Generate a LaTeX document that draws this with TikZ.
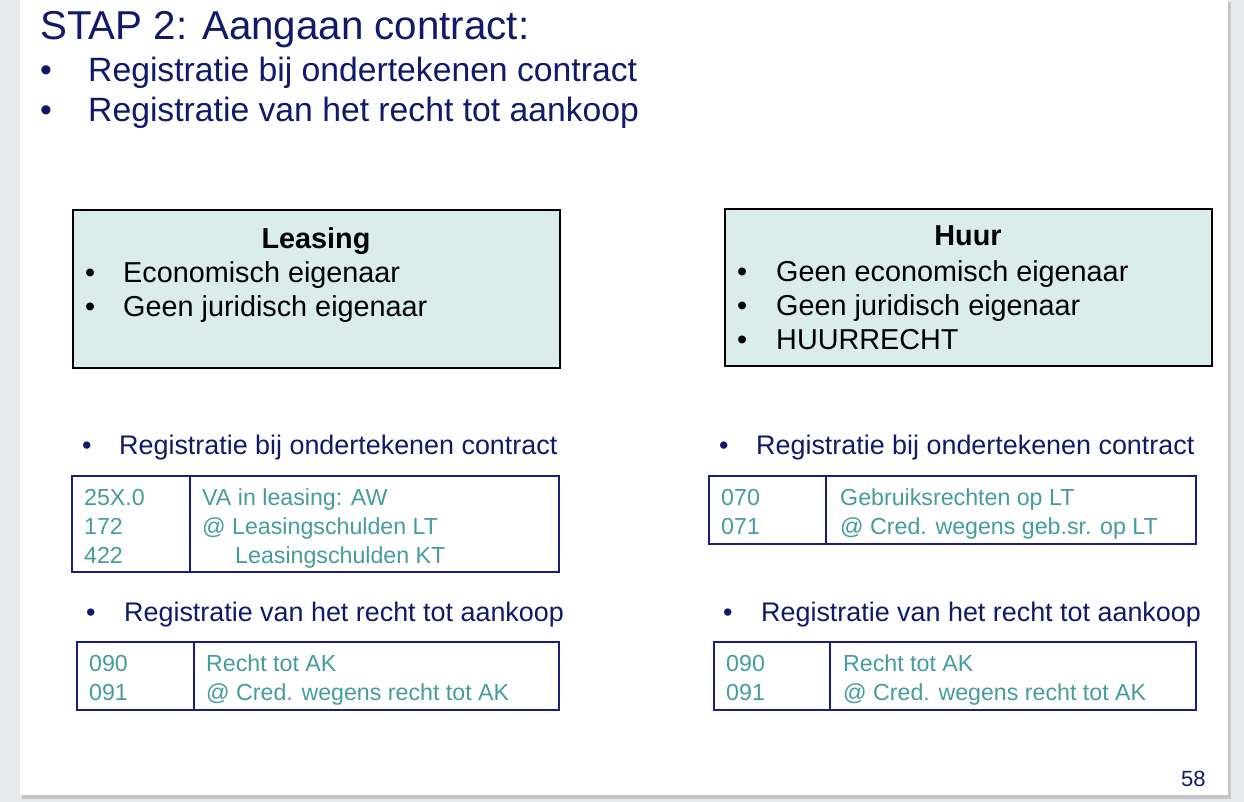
\documentclass[tikz,border=0pt]{standalone}
\usepackage{fontspec}
\setmainfont{Liberation Sans}
\definecolor{navy}{HTML}{10196A}
\definecolor{frame}{HTML}{1C1C7E}
\definecolor{teal}{HTML}{459C9E}
\definecolor{boxfill}{HTML}{DBECEC}
\definecolor{pagegray}{HTML}{E8E9EB}
\tikzset{
  txt/.style={anchor=base west, inner sep=0pt},
  tbl/.style={draw=frame, line width=1.4pt},
  tbltxt/.style={txt, text=teal, font=\fontsize{23.2}{27}\selectfont},
  secbul/.style={txt, text=navy, font=\fontsize{26.9}{31}\selectfont},
  boxtxt/.style={txt, font=\fontsize{28.8}{33}\selectfont},
  toptxt/.style={txt, text=navy, font=\fontsize{33.7}{39}\selectfont},
}
\begin{document}
\begin{tikzpicture}[x=1pt,y=-1pt]
	\useasboundingbox (0,0) rectangle (1244,802);
	\fill[pagegray] (0,0) rectangle (1244,802);
	\fill[black!22] (22,2) rectangle (1231,799);
	\fill[white] (20,0) rectangle (1228,795);
	
	% title
	\node[txt, text=navy, font=\fontsize{40.3}{46}\selectfont] (title) at (40,40) {STAP 2: Aangaan contract:};
	\node[toptxt] at (40,82) {•};
	\node[toptxt] (b1) at (88,82) {Registratie bij ondertekenen contract};
	\node[toptxt] at (40,122) {•};
	\node[toptxt] (b2) at (88,122) {Registratie van het recht tot aankoop};
	
	% boxes
	\draw[fill=boxfill, line width=1.2pt] (73,210) rectangle (560,368);
	\node[anchor=base, font=\bfseries\fontsize{28.8}{33}\selectfont] (leasing) at (316,248) {Leasing};
	\node[boxtxt] at (85,282) {•};
	\node[boxtxt] (l1) at (123,282) {Economisch eigenaar};
	\node[boxtxt] at (85,316) {•};
	\node[boxtxt] (l2) at (123,316) {Geen juridisch eigenaar};
	
	\draw[fill=boxfill, line width=1.2pt] (725,209) rectangle (1212,366);
	\node[anchor=base, font=\bfseries\fontsize{28.8}{33}\selectfont] (huur) at (968,246) {Huur};
	\node[boxtxt] at (737,281) {•};
	\node[boxtxt] (h1) at (776,281) {Geen economisch eigenaar};
	\node[boxtxt] at (737,315) {•};
	\node[boxtxt] (h2) at (776,315) {Geen juridisch eigenaar};
	\node[boxtxt] at (737,349) {•};
	\node[boxtxt] (h3) at (776,349) {HUURRECHT};
	
	% section bullets
	\node[secbul] at (82,454) {•};
	\node[secbul] (s1) at (119,454) {Registratie bij ondertekenen contract};
	\node[secbul] at (719,454) {•};
	\node[secbul] (s2) at (756,454) {Registratie bij ondertekenen contract};
	\node[secbul] at (86,621) {•};
	\node[secbul] (s3) at (124,621) {Registratie van het recht tot aankoop};
	\node[secbul] at (723,621) {•};
	\node[secbul] (s4) at (761,621) {Registratie van het recht tot aankoop};
	
	% table leasing 1
	\draw[tbl] (72,476) rectangle (559,572) (190,476) -- (190,572);
	\node[tbltxt] at (84,505) {25X.0};
	\node[tbltxt] at (84,534) {172};
	\node[tbltxt] at (84,563) {422};
	\node[tbltxt] at (202,505) {VA in leasing: AW};
	\node[tbltxt] at (202,534) {@ Leasingschulden LT};
	\node[tbltxt] at (235,563) {Leasingschulden KT};
	
	% table huur 1
	\draw[tbl] (709,476) rectangle (1196,544) (826,476) -- (826,544);
	\node[tbltxt] at (721,505) {070};
	\node[tbltxt] at (721,534) {071};
	\node[tbltxt] at (840,505) {Gebruiksrechten op LT};
	\node[tbltxt] at (840,534) {@ Cred. wegens geb.sr. op LT};
	
	% table leasing 2
	\draw[tbl] (77,642) rectangle (559,710) (194,642) -- (194,710);
	\node[tbltxt] at (89,671) {090};
	\node[tbltxt] at (89,700) {091};
	\node[tbltxt] at (206,671) {Recht tot AK};
	\node[tbltxt] at (206,700) {@ Cred. wegens recht tot AK};
	
	% table huur 2
	\draw[tbl] (714,642) rectangle (1196,710) (830,642) -- (830,710);
	\node[tbltxt] at (726,671) {090};
	\node[tbltxt] at (726,700) {091};
	\node[tbltxt] at (843,671) {Recht tot AK};
	\node[tbltxt] at (843,700) {@ Cred. wegens recht tot AK};
	
	\node[txt, text=navy, font=\fontsize{22}{26}\selectfont] (page) at (1181,786) {58};
\end{tikzpicture}
\end{document}
